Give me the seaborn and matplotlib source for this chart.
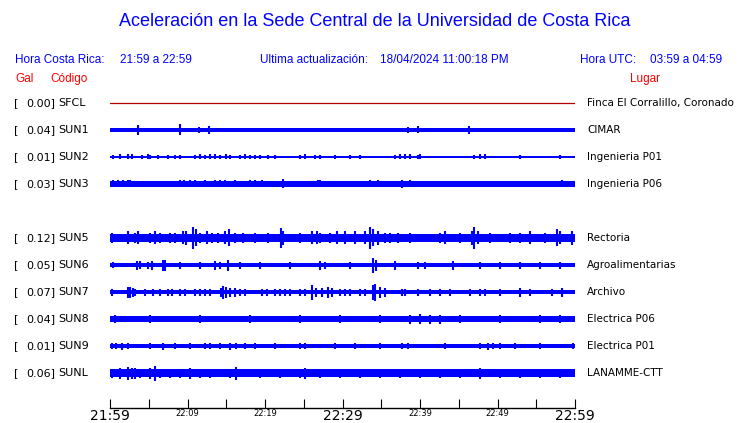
import matplotlib
matplotlib.use("Agg")
import matplotlib.pyplot as plt
import seaborn as sns
import numpy as np

# station info
codes = ["SFCL", "SUN1", "SUN2", "SUN3", "SUN5", "SUN6", "SUN7", "SUN8", "SUN9", "SUNL"]
gal = [0.00, 0.04, 0.01, 0.03, 0.12, 0.05, 0.07, 0.04, 0.01, 0.06]
places = ["Finca El Corralillo, Coronado", "CIMAR", "Ingenieria P01", "Ingenieria P06",
          "Rectoria", "Agroalimentarias", "Archivo", "Electrica P06", "Electrica P01",
          "LANAMME-CTT"]

# time axis, minutes after 21:59
tick_min = list(range(0, 61, 5))
tick_lab = ["21:59", "", "22:09", "", "22:19", "", "22:29", "", "22:39", "", "22:49", "", "22:59"]

# base envelope (half height, px) in 3-minute segments
base = {
    "SUN1": [2.0, 2.0, 2.0, 2.0, 2.0, 2.0, 2.0, 1.8, 1.8, 1.8, 1.8, 2.0, 2.0, 2.0, 2.0, 2.0, 1.8, 1.8, 1.8, 1.8],
    "SUN2": [0.9] * 20,
    "SUN3": [2.6] * 20,
    "SUN5": [4.2] * 20,
    "SUN6": [2.1] * 20,
    "SUN7": [2.3] * 20,
    "SUN8": [3.4] * 20,
    "SUN9": [1.9] * 20,
    "SUNL": [3.8] * 20,
}

# bursts: time (min) and half height (px)
spike_t = {
    "SUN1": [3.6, 9.0, 11.5, 12.8, 38.5, 39.7, 46.3],
    "SUN2": [0.4, 1.3, 2.3, 2.8, 4.1, 4.9, 5.2, 6.2, 7.5, 8.4, 9.0, 11.0, 11.6, 12.3, 12.9, 13.5, 14.2, 15.0,
             15.5, 16.8, 17.4, 18.1, 18.7, 19.4, 20.4, 21.3, 24.5, 25.2, 26.4, 27.1, 29.0, 31.0, 32.3, 36.8,
             37.4, 38.1, 38.7, 39.7, 40.0, 47.0, 47.7, 48.4, 52.9, 58.0],
    "SUN3": [0.4, 1.0, 1.7, 2.3, 2.6, 9.0, 9.5, 10.3, 11.0, 12.3, 13.5, 14.2, 14.8, 16.1, 18.1, 18.7, 19.6,
             22.3, 26.8, 27.1, 33.5, 34.6, 37.7, 38.7, 47.5, 58.3],
    "SUN5": [0.3, 2.3, 3.2, 3.6, 5.2, 5.8, 6.5, 7.7, 8.4, 9.4, 9.8, 10.7, 11.1, 11.6, 12.5, 13.2, 13.9, 14.8,
             15.4, 16.1, 17.2, 18.7, 20.4, 22.1, 22.3, 24.5, 26.1, 26.7, 27.1, 28.4, 29.3, 30.3, 31.6, 32.9,
             33.5, 33.9, 34.6, 35.5, 36.1, 37.2, 38.7, 42.6, 43.2, 45.2, 46.7, 47.0, 47.5, 49.0, 51.6, 52.9,
             54.2, 56.1, 57.7, 58.1, 59.6],
    "SUN6": [0.4, 3.5, 3.9, 4.9, 5.4, 6.8, 7.1, 9.0, 11.6, 13.5, 14.2, 15.2, 16.8, 19.4, 23.2, 27.1, 27.7,
             31.0, 33.9, 34.3, 36.8, 39.7, 40.6, 44.3, 47.7, 50.3, 52.9, 55.5, 58.1],
    "SUN7": [0.26, 2.3, 2.6, 3.0, 3.2, 4.5, 5.5, 6.5, 7.5, 8.0, 9.0, 9.7, 11.0, 11.6, 12.3, 12.9, 14.3, 14.6,
             15.0, 15.5, 16.1, 16.8, 17.4, 19.6, 20.3, 21.3, 21.9, 22.6, 23.2, 24.5, 25.2, 26.1, 26.6, 27.4,
             28.1, 28.6, 29.7, 30.3, 31.0, 32.3, 32.9, 33.9, 34.2, 34.8, 35.5, 37.7, 38.1, 39.7, 41.3, 42.6,
             43.9, 46.5, 47.7, 48.4, 50.3, 52.9, 54.2, 57.0, 58.3],
    "SUN8": [0.65, 5.2, 11.6, 18.1, 24.5, 29.7, 34.8, 38.7, 40.0, 41.3, 42.6, 45.2, 50.3, 55.5, 58.1],
    "SUN9": [0.3, 0.8, 1.5, 2.3, 5.2, 6.8, 8.4, 10.3, 12.3, 12.9, 14.2, 15.5, 16.3, 17.4, 18.7, 21.3, 24.5,
             25.2, 29.0, 31.6, 34.8, 37.7, 38.5, 43.2, 47.7, 48.8, 49.4, 50.3, 52.3, 55.5, 59.8],
    "SUNL": [0.26, 1.3, 2.3, 2.8, 3.2, 3.9, 5.2, 5.8, 6.5, 7.7, 9.0, 10.3, 11.6, 12.9, 15.5, 16.3, 19.4,
             21.9, 24.5, 25.2, 27.1, 29.7, 32.3, 34.8, 37.4, 40.0, 42.6, 45.2, 47.7, 50.3, 52.9, 55.5, 58.1],
}
spike_a = {
    "SUN1": [5.0, 5.5, 3.0, 4.0, 3.0, 3.5, 4.0],
    "SUN2": [2, 2.5, 2.5, 2.5, 2, 2.5, 2, 2, 2, 2, 2, 2, 2.5, 2, 2.5, 2.5, 2, 2.5,
             2, 2, 2.5, 2, 2, 2, 2, 2, 2, 2.5, 2, 2, 2, 2, 2, 2,
             2.5, 2.5, 2.5, 2, 2.5, 2, 2.5, 2.5, 2, 2],
    "SUN3": [3.5, 3.5, 3.5, 3.5, 3.5, 3.5, 3.5, 3.5, 3.5, 3.5, 3.5, 3.5, 3.5, 3.5, 3.5, 3.5, 3.5,
             4.5, 3.5, 3.5, 3.5, 3.5, 4, 3.5, 3, 3.5],
    "SUN5": [5, 6.5, 5.5, 6.5, 5.5, 6.5, 5, 5.5, 5.5, 6.5, 7.5, 11.5, 8.5, 5.5, 6.5, 5.5, 5, 6.5,
             8.5, 5.5, 5, 5, 5.5, 9.5, 7.5, 5, 6.5, 6.5, 5.5, 5.5, 6.5, 6.5, 6.5, 6.5,
             11.5, 8.5, 7.5, 5.5, 5, 5, 5, 5.5, 6.5, 5.5, 7.5, 10.5, 6.5, 5.5, 5, 5,
             6.5, 5, 8.5, 6.5, 7.5],
    "SUN6": [3, 4.5, 4, 3.5, 4.5, 5.5, 5.5, 3.5, 3.5, 4.5, 3.5, 5.5, 3.5, 3.5, 3.5, 4.5, 3.5,
             3.5, 7.5, 5.5, 4.5, 3.5, 3.5, 4.5, 3.5, 3.5, 3.5, 3.5, 3.5],
    "SUN7": [3.5, 5.5, 5.5, 4.5, 3.5, 3.5, 3.5, 3.5, 3.5, 3.5, 3.5, 3.5, 3.5, 3.5, 3.5, 3.5, 4.5, 6.5,
             5.5, 4.5, 4.5, 3.5, 3.5, 3.5, 3.5, 3.5, 3.5, 3.5, 3.5, 3.5, 3.5, 7.5, 4.5, 4.5,
             5.5, 4.5, 3.5, 3.5, 3.5, 3.5, 3.5, 7.5, 8.5, 5.5, 4.5, 3.5, 3.5, 3.5, 3.5, 3.5,
             3.5, 3.5, 3.5, 3.5, 3.5, 4.5, 3.5, 3.5, 4.5],
    "SUN8": [4, 4, 4, 4, 4, 4, 4, 4.5, 5, 4.5, 4.5, 4, 4, 4, 4],
    "SUN9": [3, 3, 3.5, 3, 3, 3.5, 3, 3, 3, 3, 3, 3.5, 3, 3, 3, 3, 3,
             3, 3, 3, 3, 3, 3, 3, 3, 3.5, 3, 3, 3, 3, 3],
    "SUNL": [4.5, 5.5, 6.5, 5.5, 5.5, 4.5, 5.5, 7.5, 4.5, 4.5, 4.5, 5.5, 4.5, 4.5, 4.5, 6.5, 4.5,
             4.5, 4.5, 5.5, 4.5, 4.5, 4.5, 4.5, 4.5, 4.5, 4.5, 4.5, 5.5, 4.5, 4.5, 4.5, 4.5],
}

W, H = 740, 423
ROW_PX = 27.0
BLUE = "#0000ff"
sns.set_theme(style="white")
plt.rcParams["font.family"] = ["DejaVu Sans"]
plt.rcParams["text.color"] = "black"
plt.rcParams["xtick.color"] = "black"

fig = plt.figure(figsize=(W / 100, H / 100), dpi=100)


def fx(x):
    return x / W


def fy(y):
    return 1 - y / H


# trace area: x 110..575 px, y 90..408 px
ax = fig.add_axes([fx(110), fy(408), (575 - 110) / W, (408 - 90) / H])
ax.set_xlim(0, 60)
top = (90 - 103) / ROW_PX
bot = (408 - 103) / ROW_PX
ax.set_ylim(bot, top)

seg_edges = np.arange(0, 61, 3)
for i, code in enumerate(codes):
    row = i if i < 4 else i + 1   # SUN4 slot left empty
    yp = fy(103 + ROW_PX * row)
    if code == "SFCL":
        sns.lineplot(x=[0, 60], y=[row, row], ax=ax, color="#b00000", lw=0.9)
    else:
        b = np.array(base[code] + [base[code][-1]]) / ROW_PX
        ax.fill_between(seg_edges, row - b, row + b, step="post", color=BLUE, lw=0)
        a = np.array(spike_a[code]) / ROW_PX
        ax.vlines(spike_t[code], row - a, row + a, color=BLUE, lw=1.5)
    fig.text(fx(14), yp, "[", fontsize=8, va="center", ha="left")
    fig.text(fx(55), yp, f"{gal[i]:.2f}]", fontsize=8, va="center", ha="right")
    fig.text(fx(58), yp, code, fontsize=8, va="center", ha="left")
    fig.text(fx(587), yp, places[i], fontsize=7.5, va="center", ha="left")

for s in ["top", "right", "left"]:
    ax.spines[s].set_visible(False)
ax.spines["bottom"].set_color("black")
ax.spines["bottom"].set_linewidth(1.0)
ax.set_yticks([])
ax.set_xticks(tick_min)
ax.set_xticklabels(tick_lab)
ax.tick_params(axis="x", direction="in", length=6.5, width=0.8, color="black", pad=1,
               bottom=True, labelsize=6, labelcolor="black")
for lab in ax.get_xticklabels():
    if lab.get_text() in ("21:59", "22:29", "22:59"):
        lab.set_fontsize(10)
ax.patch.set_alpha(0)

# header
hf = ["Liberation Sans", "DejaVu Sans"]
fig.text(fx(375), fy(22), "Aceleración en la Sede Central de la Universidad de Costa Rica",
         fontsize=13, color=BLUE, ha="center", va="center", family=hf)
fig.text(fx(15), fy(60), "Hora Costa Rica:", fontsize=8.5, color=BLUE, va="center", family=hf)
fig.text(fx(120), fy(60), "21:59 a 22:59", fontsize=8.5, color=BLUE, va="center", family=hf)
fig.text(fx(260), fy(60), "Ultima actualización:", fontsize=8.5, color=BLUE, va="center", family=hf)
fig.text(fx(380), fy(60), "18/04/2024 11:00:18 PM", fontsize=8.5, color=BLUE, va="center", family=hf)
fig.text(fx(580), fy(60), "Hora UTC:", fontsize=8.5, color=BLUE, va="center", family=hf)
fig.text(fx(650), fy(60), "03:59 a 04:59", fontsize=8.5, color=BLUE, va="center", family=hf)
fig.text(fx(15), fy(79), "Gal", fontsize=8.5, color="#ff0000", va="center", family=hf)
fig.text(fx(50), fy(79), "Código", fontsize=8.5, color="#ff0000", va="center", family=hf)
fig.text(fx(630), fy(79), "Lugar", fontsize=8.5, color="#ff0000", va="center", family=hf)

fig.savefig("out.png", dpi=100, facecolor="white")
